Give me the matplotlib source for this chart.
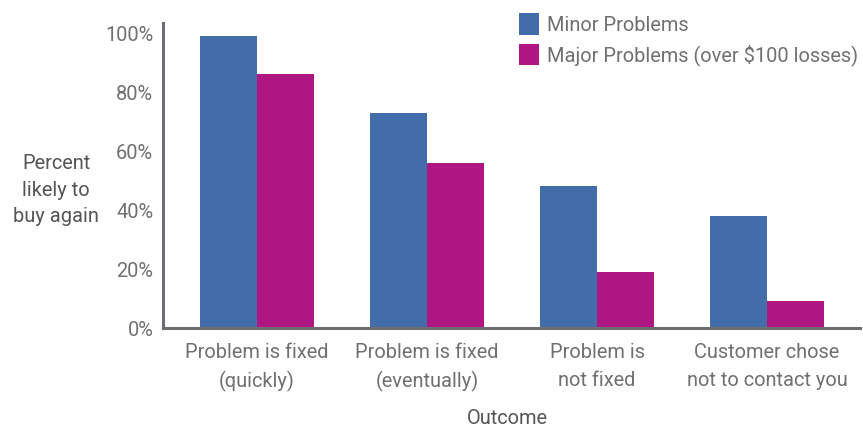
import matplotlib
matplotlib.use("Agg")
import matplotlib.pyplot as plt
import numpy as np

categories = ["Problem is fixed\n(quickly)", "Problem is fixed\n(eventually)",
              "Problem is\nnot fixed", "Customer chose\nnot to contact you"]
minor = [99, 73, 48, 38]
major = [86, 56, 19, 9]
series_names = ["Minor Problems", "Major Problems (over $100 losses)"]
yticks = [0, 20, 40, 60, 80, 100]
ytick_labels = ["0%", "20%", "40%", "60%", "80%", "100%"]

blue = "#426DA9"
mag = "#B01584"
gray_text = "#707070"
label_gray = "#555555"
axis_gray = "#6D6E71"
FS = 14.4

plt.rcParams['font.family'] = ['Roboto', 'DejaVu Sans']

fig = plt.figure(figsize=(8.63, 4.30), dpi=100)
ax = fig.add_axes([163/863, (430-328)/430, (860-163)/863, (328-23)/430])

x = np.arange(len(categories))
w = 0.335
ax.bar(x - w/2, minor, width=w, color=blue, label=series_names[0])
ax.bar(x + w/2, major, width=w, color=mag, label=series_names[1])

ax.set_xlim(-0.553, 3.547)
ax.set_ylim(0, 103.4)
ax.set_yticks(yticks)
ax.set_yticklabels(ytick_labels)
ax.set_xticks(x)
ax.set_xticklabels(categories)
ax.tick_params(axis='both', length=0, labelsize=FS, colors=gray_text)
ax.tick_params(axis='y', pad=7)
ax.tick_params(axis='x', pad=11)
for lab in ax.get_xticklabels():
    lab.set_linespacing(1.55)

for s in ['top', 'right']:
    ax.spines[s].set_visible(False)
for s in ['left', 'bottom']:
    ax.spines[s].set_color(axis_gray)
    ax.spines[s].set_linewidth(2.2)

fig.text(56/863, 1 - 190/430, "Percent\nlikely to\nbuy again", ha='center', va='center',
         fontsize=FS, color=label_gray, linespacing=1.5)
fig.text(507/863, 1 - 428/430, "Outcome", ha='center', va='bottom',
         fontsize=FS, color=label_gray)

leg = ax.legend(loc='upper left', bbox_to_anchor=((519-163)/697, 1.0 + 10/305),
                frameon=False, fontsize=FS, handlelength=1.0, handleheight=1.29,
                handletextpad=0.4, labelspacing=0.45, borderaxespad=0, borderpad=0)
for t in leg.get_texts():
    t.set_color(gray_text)

fig.savefig("out.png", dpi=100)
